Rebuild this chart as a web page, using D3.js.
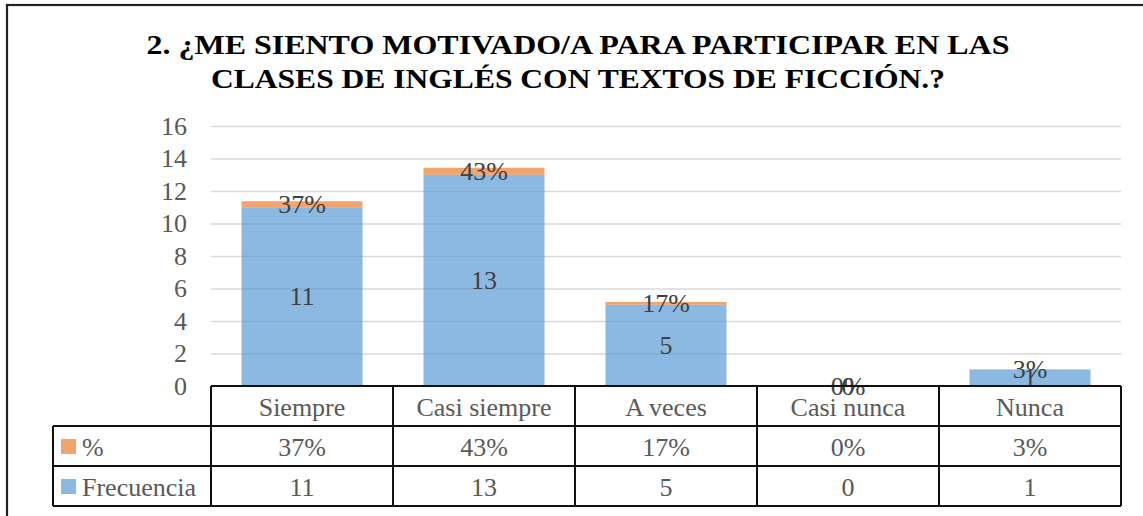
<!DOCTYPE html>
<html>
<head>
<meta charset="utf-8">
<script src="https://cdn.jsdelivr.net/npm/d3@7"></script>
<style>
  html, body { margin: 0; padding: 0; background: #fff; }
  svg { display: block; }
  svg text { font-family: "Liberation Serif", "Times New Roman", Tinos, "DejaVu Serif", serif; }
</style>
</head>
<body>
<svg id="chart" width="1143" height="516"></svg>
<script>
// Survey answers and their totals
const categories = ["Siempre", "Casi siempre", "A veces", "Casi nunca", "Nunca"];
const frecuencia = [11, 13, 5, 0, 1];
const porcentaje = [0.37, 0.43, 0.17, 0, 0.03];
const seriesNames = ["%", "Frecuencia"];
const yTicks = [0, 2, 4, 6, 8, 10, 12, 14, 16];
const titleLines = [
  "2. ¿ME SIENTO MOTIVADO/A PARA PARTICIPAR EN LAS",
  "CLASES DE INGLÉS CON TEXTOS DE FICCIÓN.?"
];

const W = 1143, H = 516;
const plot = { left: 211, right: 1121, top: 126, bottom: 386 };
const rowH = 40;
const legendLeft = 53;
const titleWidths = [863, 734];
const blue = "#5B9BD5", orange = "#ED7D31";
const pctFmt = d3.format(".0%");

const svg = d3.select("#chart");

// outer frame (only top and left edges fall inside the page)
svg.append("rect")
  .attr("x", 7).attr("y", 5)
  .attr("width", W + 20).attr("height", H + 20)
  .attr("fill", "none").attr("stroke", "#222").attr("stroke-width", 2.2);

// title
svg.append("g").selectAll("text").data(titleLines).join("text")
  .attr("x", 578).attr("y", (d, i) => 54 + i * 34)
  .attr("text-anchor", "middle")
  .attr("font-weight", "bold")
  .attr("font-size", 27).attr("fill", "#000")
  .attr("textLength", (d, i) => titleWidths[i])
  .attr("lengthAdjust", "spacingAndGlyphs")
  .text(d => d);

const x = d3.scaleBand().domain(categories)
  .range([plot.left, plot.right])
  .paddingInner(0.335).paddingOuter(0.1675);
const y = d3.scaleLinear().domain([0, 16]).range([plot.bottom, plot.top]);

// gridlines
const grid = svg.append("g").attr("transform", `translate(${plot.left},0)`)
  .call(d3.axisLeft(y).tickValues(yTicks.filter(t => t > 0))
    .tickSize(-(plot.right - plot.left)).tickFormat(""));
grid.select(".domain").remove();
grid.selectAll("line").attr("stroke", "#d9d9d9").attr("stroke-width", 1.4);

// y axis labels
const yAxis = svg.append("g").attr("transform", `translate(187,0)`)
  .call(d3.axisLeft(y).tickValues(yTicks).tickSize(0).tickPadding(0));
yAxis.select(".domain").remove();
yAxis.attr("font-family", null);
yAxis.selectAll("text")
  .attr("font-size", 26).attr("fill", "#595959");

// stacked bars
const rows = categories.map((c, i) => ({ c, f: frecuencia[i], p: porcentaje[i] }));
const bars = svg.append("g");
bars.selectAll("rect.f").data(rows).join("rect").attr("class", "f")
  .attr("x", d => x(d.c)).attr("width", x.bandwidth())
  .attr("y", d => y(d.f)).attr("height", d => y(0) - y(d.f))
  .attr("fill", blue).attr("fill-opacity", 0.7);
bars.selectAll("rect.p").data(rows).join("rect").attr("class", "p")
  .attr("x", d => x(d.c)).attr("width", x.bandwidth())
  .attr("y", d => y(d.f + d.p)).attr("height", d => y(d.f) - y(d.f + d.p))
  .attr("fill", orange).attr("fill-opacity", 0.7);

// data labels
const lab = svg.append("g").attr("font-size", 26)
  .attr("fill", "#404040").attr("text-anchor", "middle")
  .attr("dominant-baseline", "central");
lab.selectAll("text.f").data(rows).join("text").attr("class", "f")
  .attr("x", d => x(d.c) + x.bandwidth() / 2)
  .attr("y", d => y(d.f / 2))
  .text(d => d.f);
lab.selectAll("text.p").data(rows).join("text").attr("class", "p")
  .attr("x", d => x(d.c) + x.bandwidth() / 2)
  .attr("y", d => y(d.f + d.p / 2))
  .text(d => pctFmt(d.p));

// data table under the plot
const tbl = svg.append("g");
const lineStyle = s => s.attr("stroke", "#111").attr("stroke-width", 2);
const yTop = plot.bottom, y1 = yTop + rowH, y2 = y1 + rowH, y3 = y2 + rowH;
// horizontal lines
tbl.append("line").attr("x1", plot.left).attr("x2", plot.right).attr("y1", yTop).attr("y2", yTop).call(lineStyle);
[y1, y2, y3].forEach(yy =>
  tbl.append("line").attr("x1", legendLeft).attr("x2", plot.right).attr("y1", yy).attr("y2", yy).call(lineStyle));
// vertical lines
const colEdges = categories.map(c => x(c) - x.step() * x.paddingInner() / 2).concat([plot.right]);
colEdges.forEach(xx =>
  tbl.append("line").attr("x1", xx).attr("x2", xx).attr("y1", yTop).attr("y2", y3).call(lineStyle));
tbl.append("line").attr("x1", legendLeft).attr("x2", legendLeft).attr("y1", y1).attr("y2", y3).call(lineStyle);

const cellText = tbl.append("g").attr("font-size", 26)
  .attr("fill", "#595959").attr("text-anchor", "middle").attr("dominant-baseline", "central");
cellText.selectAll("text.h").data(categories).join("text").attr("class", "h")
  .attr("x", c => x(c) + x.bandwidth() / 2).attr("y", yTop + rowH / 2 + 1).text(c => c);
cellText.selectAll("text.p").data(rows).join("text").attr("class", "p")
  .attr("x", d => x(d.c) + x.bandwidth() / 2).attr("y", y1 + rowH / 2 + 1).text(d => pctFmt(d.p));
cellText.selectAll("text.f").data(rows).join("text").attr("class", "f")
  .attr("x", d => x(d.c) + x.bandwidth() / 2).attr("y", y2 + rowH / 2 + 1).text(d => d.f);

// legend keys in the first column
const legendColors = [orange, blue];
const leg = tbl.selectAll("g.leg").data(seriesNames).join("g").attr("class", "leg")
  .attr("transform", (d, i) => `translate(${legendLeft + 8},${y1 + i * rowH})`);
leg.append("rect").attr("x", 0).attr("y", 13).attr("width", 15).attr("height", 15)
  .attr("fill", (d, i) => legendColors[i]).attr("fill-opacity", 0.7);
leg.append("text").attr("x", 21).attr("y", rowH / 2 + 1)
  .attr("dominant-baseline", "central")
  .attr("font-size", 26).attr("fill", "#595959")
  .text(d => d);
</script>
</body>
</html>
